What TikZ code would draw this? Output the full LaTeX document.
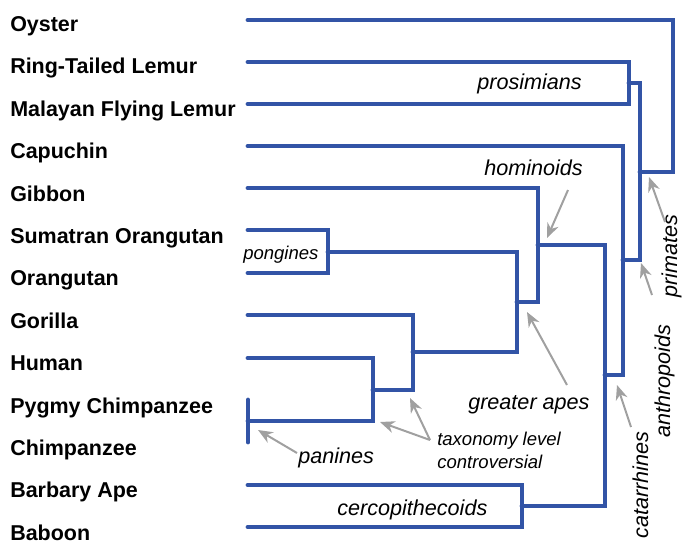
\documentclass[tikz,border=0pt]{standalone}
\usepackage{fontspec}
\setmainfont{Liberation Sans}
\usetikzlibrary{arrows.meta}
\definecolor{treeblue}{RGB}{50,84,166}
\definecolor{arrgray}{RGB}{160,160,160}
\tikzset{
  branch/.style={draw=treeblue, line width=3.7pt, line cap=round, line join=miter},
  pointer/.style={draw=arrgray, line width=1.5pt, -{Stealth[length=11pt,width=9pt,inset=3.5pt]}},
  species/.style={anchor=base west, inner sep=0pt, font=\bfseries\fontsize{16.1pt}{18pt}\selectfont},
  clade/.style={inner sep=0pt, font=\itshape\fontsize{16.2pt}{18pt}\selectfont},
  smallclade/.style={inner sep=0pt, font=\itshape\fontsize{13.9pt}{16pt}\selectfont},
  sideclade/.style={inner sep=0pt, rotate=90, anchor=base, font=\itshape\fontsize{16.2pt}{18pt}\selectfont}
}
\begin{document}
\begin{tikzpicture}[x=0.75pt, y=-0.75pt]
\useasboundingbox (0,0) rectangle (682,543);
% species labels
\node[species] (tOys) at (10,31.5) {Oyster};
\node[species] (tRtl) at (10,73.9) {Ring-Tailed Lemur};
\node[species] (tMfl) at (10,116.3) {Malayan Flying Lemur};
\node[species] (tCap) at (10,158.7) {Capuchin};
\node[species] (tGib) at (10,201.1) {Gibbon};
\node[species] (tSum) at (10,243.5) {Sumatran Orangutan};
\node[species] (tOra) at (10,285.9) {Orangutan};
\node[species] (tGor) at (10,328.3) {Gorilla};
\node[species] (tHum) at (10,370.7) {Human};
\node[species] (tPyg) at (10,413.1) {Pygmy Chimpanzee};
\node[species] (tChi) at (10,455.5) {Chimpanzee};
\node[species] (tBar) at (10,497.9) {Barbary Ape};
\node[species] (tBab) at (10,540.3) {Baboon};
% leaf tips
\coordinate (oys) at (248,20);
\coordinate (rtl) at (248,62);
\coordinate (mfl) at (248,104);
\coordinate (cap) at (248,146);
\coordinate (gib) at (248,188);
\coordinate (sum) at (248,230);
\coordinate (ora) at (248,273);
\coordinate (gor) at (248,315);
\coordinate (hum) at (248,358);
\coordinate (pyg) at (248,400);
\coordinate (chi) at (248,442);
\coordinate (bar) at (248,485);
\coordinate (bab) at (248,527);
% internal nodes
\coordinate (pro) at (629,83);
\coordinate (pan) at (248,421);
\coordinate (hp) at (373,390);
\coordinate (afr) at (413,352);
\coordinate (pong) at (328,252);
\coordinate (ga) at (517,302);
\coordinate (hom) at (538,245);
\coordinate (cer) at (522,506);
\coordinate (cat) at (605,375);
\coordinate (ant) at (623,260);
\coordinate (pri) at (640,172);
\coordinate (root) at (673,96);
% branches
\draw[branch] (rtl) -| (pro) |- (mfl);
\draw[branch] (pyg) -- (pan) -- (chi);
\draw[branch] (hum) -| (hp) |- (pan);
\draw[branch] (gor) -| (afr) |- (hp);
\draw[branch] (sum) -| (pong) |- (ora);
\draw[branch] (pong) -| (ga) |- (afr);
\draw[branch] (gib) -| (hom) |- (ga);
\draw[branch] (bar) -| (cer) |- (bab);
\draw[branch] (hom) -| (cat) |- (cer);
\draw[branch] (cap) -| (ant) |- (cat);
\draw[branch] (pro) -| (pri) |- (ant);
\draw[branch] (oys) -| (root) |- (pri);
% clade labels
\node[clade, anchor=base east] (lPro) at (582,89) {prosimians};
\node[clade, anchor=base east] (lHom) at (583,175) {hominoids};
\node[smallclade, anchor=base west] (lPong) at (243,259) {pongines};
\node[clade, anchor=base west] (lGa) at (468,409) {greater apes};
\node[smallclade, anchor=base west] (lTax1) at (437,445) {taxonomy level};
\node[smallclade, anchor=base west] (lTax2) at (437,468) {controversial};
\node[clade, anchor=base west] (lPan) at (298,463) {panines};
\node[clade, anchor=base west] (lCer) at (337,515) {cercopithecoids};
\node[sideclade] (lPri) at (677,256) {primates};
\node[sideclade] (lAnt) at (670,381) {anthropoids};
\node[sideclade] (lCat) at (648,485) {catarrhines};
% arrow ends
\coordinate (aHomT) at (568,190);  \coordinate (aHomH) at (547,238);
\coordinate (aPriT) at (665,222);  \coordinate (aPriH) at (649,177);
\coordinate (aAntT) at (652,295);  \coordinate (aAntH) at (641,263);
\coordinate (aCatT) at (631,427);  \coordinate (aCatH) at (617,385);
\coordinate (aGaT) at (567,385);   \coordinate (aGaH) at (527,312);
\coordinate (aTaxT) at (430,440);  \coordinate (aTaxH1) at (410,398); \coordinate (aTaxH2) at (380,422);
\coordinate (aPanT) at (297,453);  \coordinate (aPanH) at (258,430);
\draw[pointer] (aHomT) -- (aHomH);
\draw[pointer] (aPriT) -- (aPriH);
\draw[pointer] (aAntT) -- (aAntH);
\draw[pointer] (aCatT) -- (aCatH);
\draw[pointer] (aGaT) -- (aGaH);
\draw[pointer] (aTaxT) -- (aTaxH1);
\draw[pointer] (aTaxT) -- (aTaxH2);
\draw[pointer] (aPanT) -- (aPanH);
\end{tikzpicture}
\end{document}
